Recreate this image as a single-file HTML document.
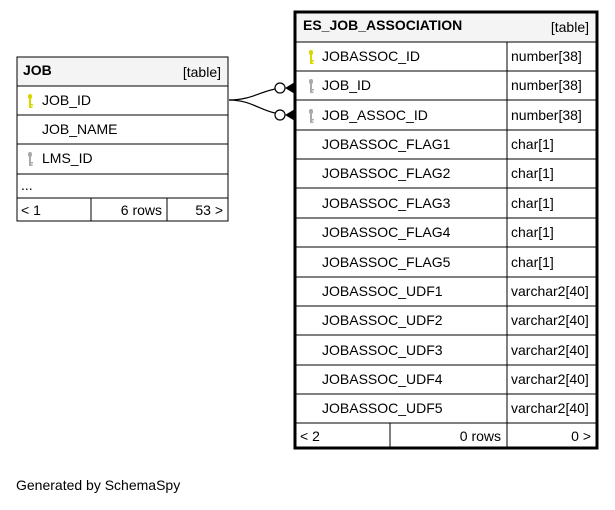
<!DOCTYPE html>
<html><head><style>
body{margin:0;background:#fff;}
svg text{font-family:"Liberation Sans",sans-serif;font-size:14px;fill:#000;}
</style></head><body>
<svg width="615" height="505" xmlns="http://www.w3.org/2000/svg">
<defs>
<g id="key"><rect x="-2" y="-7" width="4" height="5" rx="2"/><rect x="-1" y="-3" width="2" height="10"/><rect x="0" y="3" width="3" height="1.5"/><rect x="0" y="5.5" width="2.5" height="1.5"/></g>
</defs>
<!-- JOB table -->
<rect x="17" y="57" width="211" height="164" fill="#fff" stroke="#000"/>
<rect x="17.5" y="57.5" width="210" height="28" fill="#f4f4f4"/>
<g stroke="#000" stroke-width="1">
<line x1="17" y1="86" x2="228" y2="86"/><line x1="17" y1="115" x2="228" y2="115"/>
<line x1="17" y1="144" x2="228" y2="144"/><line x1="17" y1="174" x2="228" y2="174"/>
<line x1="17" y1="198" x2="228" y2="198"/>
<line x1="91" y1="198" x2="91" y2="221"/><line x1="167" y1="198" x2="167" y2="221"/>
</g>
<text x="23" y="75" font-weight="bold">JOB</text>
<text x="221" y="77" text-anchor="end">[table]</text>
<use href="#key" x="30" y="101" fill="#d8d800"/>
<text x="42" y="105">JOB_ID</text>
<text x="42" y="134">JOB_NAME</text>
<use href="#key" x="30" y="159" fill="#aaa"/>
<text x="42" y="163">LMS_ID</text>
<text x="21" y="190" font-size="11">...</text>
<text x="21" y="215">&lt; 1</text>
<text x="162" y="215" text-anchor="end">6 rows</text>
<text x="223" y="215" text-anchor="end">53 &gt;</text>
<!-- connectors -->
<g fill="none" stroke="#000" stroke-width="1.2">
<path d="M229 100 C250 100 260 92 275 89"/>
<path d="M229 100 C250 100 260 110 275 113"/>
</g>
<circle cx="280" cy="88" r="5" fill="#fff" stroke="#000" stroke-width="1.2"/>
<circle cx="280" cy="115" r="5" fill="#fff" stroke="#000" stroke-width="1.2"/>
<polygon points="285,88 295,82 295,94" fill="#000"/>
<polygon points="285,115 295,109 295,121" fill="#000"/>
<!-- ES table -->
<rect x="295" y="12" width="302" height="436" fill="#fff" stroke="#000" stroke-width="3"/>
<rect x="296.5" y="13.5" width="299" height="28" fill="#f4f4f4"/>
<g stroke="#000" stroke-width="1">
<line x1="295" y1="42" x2="597" y2="42"/>
<line x1="295" y1="71" x2="597" y2="71"/><line x1="295" y1="100" x2="597" y2="100"/>
<line x1="295" y1="130" x2="597" y2="130"/><line x1="295" y1="159" x2="597" y2="159"/>
<line x1="295" y1="188" x2="597" y2="188"/><line x1="295" y1="218" x2="597" y2="218"/>
<line x1="295" y1="247" x2="597" y2="247"/><line x1="295" y1="277" x2="597" y2="277"/>
<line x1="295" y1="306" x2="597" y2="306"/><line x1="295" y1="335" x2="597" y2="335"/>
<line x1="295" y1="365" x2="597" y2="365"/><line x1="295" y1="394" x2="597" y2="394"/>
<line x1="295" y1="423" x2="597" y2="423"/>
<line x1="507" y1="42" x2="507" y2="448"/>
<line x1="390" y1="423" x2="390" y2="448"/>
</g>
<text x="303" y="30" font-weight="bold">ES_JOB_ASSOCIATION</text>
<text x="589" y="32" text-anchor="end">[table]</text>
<use href="#key" x="311" y="57" fill="#d8d800"/>
<use href="#key" x="311" y="86" fill="#aaa"/>
<use href="#key" x="311" y="116" fill="#aaa"/>
<g>
<text x="322" y="61">JOBASSOC_ID</text><text x="511" y="61">number[38]</text>
<text x="322" y="90">JOB_ID</text><text x="511" y="90">number[38]</text>
<text x="322" y="120">JOB_ASSOC_ID</text><text x="511" y="120">number[38]</text>
<text x="322" y="149">JOBASSOC_FLAG1</text><text x="511" y="149">char[1]</text>
<text x="322" y="178">JOBASSOC_FLAG2</text><text x="511" y="178">char[1]</text>
<text x="322" y="208">JOBASSOC_FLAG3</text><text x="511" y="208">char[1]</text>
<text x="322" y="237">JOBASSOC_FLAG4</text><text x="511" y="237">char[1]</text>
<text x="322" y="267">JOBASSOC_FLAG5</text><text x="511" y="267">char[1]</text>
<text x="322" y="296">JOBASSOC_UDF1</text><text x="511" y="296">varchar2[40]</text>
<text x="322" y="325">JOBASSOC_UDF2</text><text x="511" y="325">varchar2[40]</text>
<text x="322" y="355">JOBASSOC_UDF3</text><text x="511" y="355">varchar2[40]</text>
<text x="322" y="384">JOBASSOC_UDF4</text><text x="511" y="384">varchar2[40]</text>
<text x="322" y="413">JOBASSOC_UDF5</text><text x="511" y="413">varchar2[40]</text>
</g>
<text x="300" y="441">&lt; 2</text>
<text x="501" y="441" text-anchor="end">0 rows</text>
<text x="591" y="441" text-anchor="end">0 &gt;</text>
<text x="16" y="490">Generated by SchemaSpy</text>
</svg>
</body></html>
